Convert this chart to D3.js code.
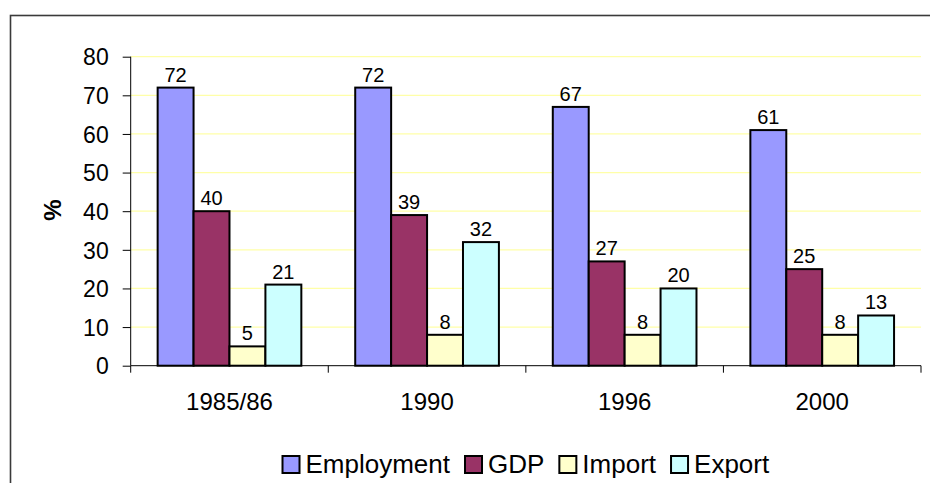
<!doctype html>
<html>
<head>
  <meta charset="utf8"/>
  <style>
    body { margin: 0; background: #fff; }
    text { font-family: "Liberation Sans", Arial, sans-serif; fill: #000; }
  </style>
</head>
<body>
  <svg width="930" height="483"></svg>
  <script src="https://d3js.org/d3.v7.min.js"></script>
  <script>
    var categories = ['1985/86', '1990', '1996', '2000'];
    var seriesNames = ['Employment', 'GDP', 'Import', 'Export'];
    var employment = [72, 72, 67, 61];
    var gdp = [40, 39, 27, 25];
    var imports = [5, 8, 8, 8];
    var exports = [21, 32, 20, 13];
    var yTicks = [0, 10, 20, 30, 40, 50, 60, 70, 80];
    var colors = ['#9999ff', '#993366', '#ffffcc', '#ccffff'];

    var seriesValues = [employment, gdp, imports, exports];

    var svg = d3.select('svg'),
        plotLeft = 130.7, plotRight = 921, plotTop = 56.7, plotBottom = 365.7;

    // outer chart frame (runs off the right and bottom edge)
    svg.append('rect')
       .attr('x', 10.5).attr('y', 15.5)
       .attr('width', 960).attr('height', 520)
       .attr('fill', 'none')
       .attr('stroke', '#3a3a3a')
       .attr('stroke-width', 1.6);

    var x = d3.scaleBand()
              .domain(categories)
              .range([plotLeft, plotRight]);
    var xs = d3.scaleBand()
               .domain(seriesNames)
               .range([0, x.bandwidth()])
               .paddingInner(0)
               .paddingOuter(0.75);
    var y = d3.scaleLinear()
              .domain([0, 80])
              .range([plotBottom, plotTop]);

    // gridlines
    svg.append('g')
       .selectAll('line')
       .data(yTicks.filter(function(d) { return d > 0; }))
       .join('line')
         .attr('x1', plotLeft).attr('x2', plotRight)
         .attr('y1', function(d) { return y(d); })
         .attr('y2', function(d) { return y(d); })
         .attr('stroke', '#ffffa8')
         .attr('stroke-width', 1.2);

    // y axis
    var yAxis = svg.append('g')
       .attr('transform', 'translate(' + plotLeft + ',0)')
       .call(d3.axisLeft(y).tickValues(yTicks).tickSize(8).tickPadding(14));
    yAxis.selectAll('path, line').attr('stroke', '#000');
    yAxis.select('.domain').attr('d', 'M0,' + plotTop + 'V' + plotBottom);
    yAxis.selectAll('text')
         .attr('font-family', null)
         .attr('font-size', null)
         .style('font-size', '23px')
         .attr('dy', '0.36em');

    svg.append('text')
       .attr('transform', 'translate(61,210) rotate(-90)')
       .attr('text-anchor', 'middle')
       .style('font-size', '24px')
       .style('font-weight', 'bold')
       .text('%');

    // bars
    var groups = svg.append('g')
       .selectAll('g')
       .data(categories)
       .join('g')
         .attr('transform', function(d) { return 'translate(' + x(d) + ',0)'; });

    groups.selectAll('rect')
       .data(function(d, i) {
         return seriesNames.map(function(s, j) {
           return {series: s, value: seriesValues[j][i], color: colors[j]};
         });
       })
       .join('rect')
         .attr('x', function(d) { return xs(d.series); })
         .attr('y', function(d) { return y(d.value); })
         .attr('width', xs.bandwidth())
         .attr('height', function(d) { return y(0) - y(d.value); })
         .attr('fill', function(d) { return d.color; })
         .attr('stroke', '#000')
         .attr('stroke-width', 2);

    groups.selectAll('text')
       .data(function(d, i) {
         return seriesNames.map(function(s, j) {
           return {series: s, value: seriesValues[j][i]};
         });
       })
       .join('text')
         .attr('x', function(d) { return xs(d.series) + xs.bandwidth() / 2; })
         .attr('y', function(d) { return y(d.value) - 6; })
         .attr('text-anchor', 'middle')
         .style('font-size', '20px')
         .text(function(d) { return d.value; });

    // x axis
    var xAxis = svg.append('g');
    xAxis.append('line')
         .attr('x1', plotLeft).attr('x2', plotRight)
         .attr('y1', plotBottom).attr('y2', plotBottom)
         .attr('stroke', '#000');
    xAxis.selectAll('.tick')
         .data(categories.concat(['end']))
         .join('line')
           .attr('class', 'tick')
           .attr('x1', function(d) { return d === 'end' ? plotRight : x(d); })
           .attr('x2', function(d) { return d === 'end' ? plotRight : x(d); })
           .attr('y1', plotBottom).attr('y2', plotBottom + 7)
           .attr('stroke', '#000');
    xAxis.selectAll('text')
         .data(categories)
         .join('text')
           .attr('x', function(d) { return x(d) + x.bandwidth() / 2; })
           .attr('y', 410)
           .attr('text-anchor', 'middle')
           .style('font-size', '24px')
           .text(function(d) { return d; });

    // legend
    var legend = svg.append('g');
    var items = legend.selectAll('g')
       .data(seriesNames)
       .join('g');
    items.append('rect')
         .attr('width', 17).attr('height', 17)
         .attr('y', 456)
         .attr('fill', function(d, i) { return colors[i]; })
         .attr('stroke', '#000')
         .attr('stroke-width', 2);
    items.append('text')
         .attr('x', 23)
         .attr('y', 472.5)
         .style('font-size', '26px')
         .text(function(d) { return d; });

    var widths = [];
    items.each(function() {
      widths.push(23 + d3.select(this).select('text').node().getComputedTextLength());
    });
    var gap = 15,
        total = d3.sum(widths) + gap * (widths.length - 1),
        pos = (plotLeft + plotRight) / 2 - total / 2;
    items.attr('transform', function(d, i) {
      var p = pos;
      pos += widths[i] + gap;
      return 'translate(' + p + ',0)';
    });
  </script>
</body>
</html>
